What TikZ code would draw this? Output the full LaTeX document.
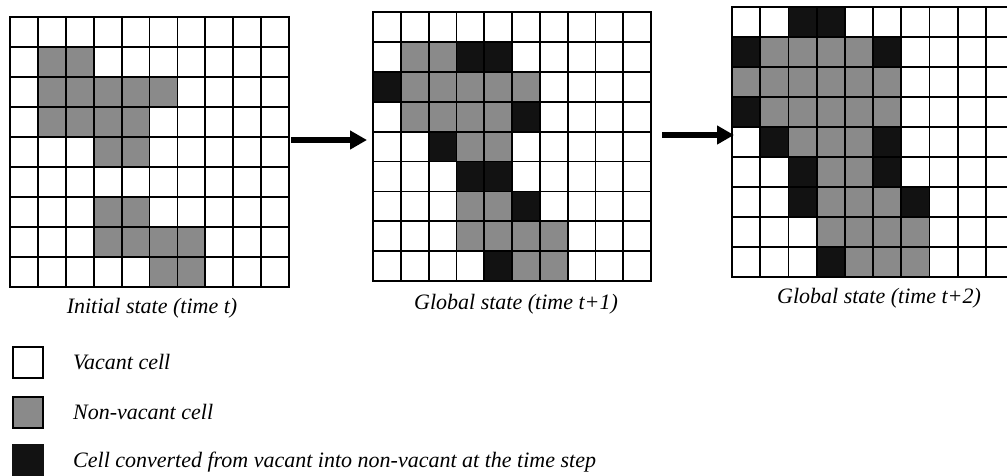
\documentclass[tikz,border=0pt]{standalone}
\usepackage{fontspec}
\setmainfont{Liberation Serif}
\usetikzlibrary{arrows.meta}
\definecolor{cellgray}{RGB}{138,138,138}
\definecolor{cellblack}{RGB}{18,18,18}
\tikzset{
  gridline/.style={line width=1.8pt, line cap=rect},
  grayfill/.style={fill=cellgray},
  blackfill/.style={fill=cellblack},
  gridframe/.style={inner sep=0pt, outer sep=0pt, draw=none},
  bigarrow/.style={line width=6pt, -{Triangle[length=17pt,width=18pt]}},
  caption/.style={font=\fontsize{22}{26}\selectfont\itshape, inner sep=0pt},
  legendtext/.style={font=\fontsize{22}{26}\selectfont\itshape, inner sep=0pt, anchor=west},
  legendbox/.style={minimum width=30pt, minimum height=31pt, inner sep=0pt, line width=1.8pt}
}
\newcommand\drawcells[6]{% X Y w h graylist blacklist
  \foreach \r/\c in {#5} {\fill[grayfill] ({#1+\c*#3},{#2+\r*#4}) rectangle ++(#3,#4);}
  \foreach \r/\c in {#6} {\fill[blackfill] ({#1+\c*#3},{#2+\r*#4}) rectangle ++(#3,#4);}
}
\newcommand\drawlines[4]{% X Y w h
  \foreach \i in {0,...,10} {\draw[gridline] ({#1+\i*#3},#2) -- ++(0,{9*#4});}
  \foreach \j in {0,...,9} {\draw[gridline] (#1,{#2+\j*#4}) -- ++({10*#3},0);}
}
\begin{document}
\begin{tikzpicture}[x=1pt,y=-1pt]
\useasboundingbox (0,0) rectangle (1007,475);
\fill[white] (0,0) rectangle (1007,475);

% grid 1 : initial state
\node[gridframe, minimum width=279pt, minimum height=270pt] (g1) at (149.5,152) {};
\foreach \r/\c in {1/1,1/2,2/1,2/2,2/3,2/4,2/5,3/1,3/2,3/3,3/4,4/3,4/4,6/3,6/4,7/3,7/4,7/5,7/6,8/5,8/6}
  {\fill[grayfill] ({10+\c*27.9},{17+\r*30}) rectangle ++(27.9,30);}
\drawlines{10}{17}{27.9}{30}

% grid 2 : time t+1
\node[gridframe, minimum width=278pt, minimum height=269pt] (g2) at (512,146.5) {};
\drawcells{373}{12}{27.8}{29.9}{1/1,1/2,2/1,2/2,2/3,2/4,2/5,3/1,3/2,3/3,3/4,4/3,4/4,6/3,6/4,7/3,7/4,7/5,7/6,8/5,8/6}{1/3,1/4,2/0,3/5,4/2,5/3,5/4,6/5,8/4}
\drawlines{373}{12}{27.8}{29.9}

% grid 3 : time t+2
\node[gridframe, minimum width=282pt, minimum height=270pt] (g3) at (873,142) {};
\drawcells{732}{7}{28.2}{30}{1/1,1/2,1/3,1/4,2/0,2/1,2/2,2/3,2/4,2/5,3/1,3/2,3/3,3/4,3/5,4/2,4/3,4/4,5/3,5/4,6/3,6/4,6/5,7/3,7/4,7/5,7/6,8/4,8/5,8/6}{0/2,0/3,1/0,1/5,3/0,4/1,4/5,5/2,5/5,6/2,6/6,8/3}
\drawlines{732}{7}{28.2}{30}

% arrows
\coordinate (a1s) at (291,140);
\coordinate (a1e) at (367,140);
\coordinate (a2s) at (662,135);
\coordinate (a2e) at (734,135);
\draw[bigarrow] (a1s) -- (a1e);
\draw[bigarrow] (a2s) -- (a2e);

% captions
\node[caption] (c1) at (152,308) {Initial state (time t)};
\node[caption] (c2) at (516,304) {Global state (time t+1)};
\node[caption] (c3) at (879,298) {Global state (time t+2)};

% legend
\node[legendbox, draw, fill=white] (l1) at (28,362.5) {};
\node[legendbox, draw, fill=cellgray] (l2) at (28,412.5) {};
\node[legendbox, draw=cellblack, fill=cellblack, minimum height=32pt] (l3) at (28,461) {};
\node[legendtext] (t1) at (73,362) {Vacant cell};
\node[legendtext] (t2) at (73,412) {Non-vacant cell};
\node[legendtext] (t3) at (73,462) {Cell converted from vacant into non-vacant at the time step};
\end{tikzpicture}
\end{document}
